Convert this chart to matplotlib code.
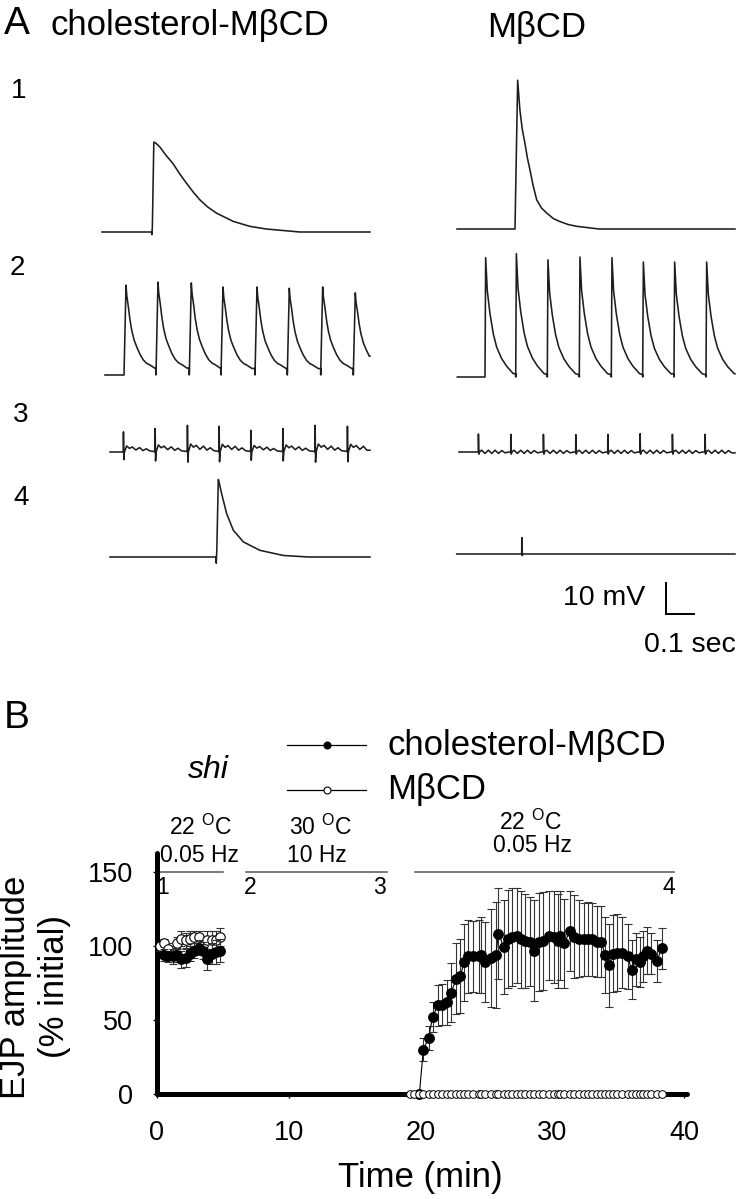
import matplotlib
matplotlib.use('Agg')
import matplotlib.pyplot as plt
import numpy as np

plt.rcParams['font.family'] = ['Liberation Sans', 'DejaVu Sans']
plt.rcParams['mathtext.fontset'] = 'custom'
plt.rcParams['mathtext.rm'] = 'Liberation Sans'
plt.rcParams['mathtext.it'] = 'Liberation Sans:italic'

W, H = 737, 1199
MS_PER_PX = 100 / 28    # 0.1 sec scale bar is 28 px
MV_PER_PX = 10 / 31     # 10 mV scale bar is 31 px

# ---------------- panel A : EJP traces (time in ms, voltage in mV) -------------
# waveform shapes (time after stimulus, fraction of peak)
slow_t = [0, 1, 3, 8.3, 15, 30, 50, 77, 100, 125, 150, 173, 200, 232, 292, 351, 411, 530]
slow_v = [0, -0.03, 0.05, 1.0, 0.99, 0.945, 0.86, 0.76, 0.65, 0.542, 0.44, 0.357, 0.28,
          0.21, 0.118, 0.063, 0.033, 0]
fast_t = [0, 9.5, 17.5, 26, 35.5, 44, 53.5, 65, 77.5, 95, 113.5, 137, 160.5, 190, 220.5, 300]
fast_v = [0, 1.0, 0.80, 0.67, 0.576, 0.48, 0.397, 0.29, 0.196, 0.14, 0.107, 0.07, 0.05,
          0.03, 0.018, 0]
late_t = [0, 1, 3, 8.3, 12, 20, 38, 62, 98, 157, 240, 330]
late_v = [0, -0.08, 0.1, 1.0, 0.95, 0.82, 0.56, 0.345, 0.194, 0.086, 0.02, 0]
train_l_t = [0, 7.1, 10, 15.5, 21, 27.4, 36, 45.2, 57, 69, 81, 92.9, 110.7]
train_l_v = [0, 1.0, 0.88, 0.76, 0.62, 0.5, 0.39, 0.315, 0.23, 0.167, 0.13, 0.111, 0.074]
train_r_t = [0, 2.4, 8.3, 17.9, 29.8, 41.7, 59.5, 77.4, 101, 112]
train_r_v = [0, 1.0, 0.72, 0.53, 0.36, 0.25, 0.154, 0.09, 0.028, 0.02]
spike_l_t = [0, 0.5, 2, 4, 12, 22, 32, 45, 58, 70, 82, 95, 108]
spike_l_v = [0, 1.0, -0.38, 0, 0.3, 0.18, 0.25, 0.1, 0.22, 0.07, 0.16, 0.05, 0.03]
spike_r_t = [0, 0.5, 2, 5, 12, 24, 36, 48, 60, 72, 84, 96, 108]
spike_r_v = [0, 1.0, -0.12, 0.02, 0.1, -0.08, 0.1, -0.08, 0.1, -0.08, 0.08, -0.05, 0]
single_t = [0, 0.5, 2, 4]
single_v = [0, 1.0, -0.1, 0]

# cholesterol-MbCD column
c1_span, c1_on, c1_amp = (25, 982), [201.8], [29.0]
c2_span = (35.7, 982)
c2_on = [103.6, 217.8, 336.8, 450.0, 571.4, 686.8, 806.0, 922.5]
c2_amp = [29.0, 30.0, 29.7, 28.4, 28.4, 28.0, 28.4, 26.5]
c3_span = (53.6, 982)
c3_on = [101.1, 214.3, 329.6, 442.8, 556.0, 670.3, 785.7, 901.0]
c3_amp = [6.5, 7.6, 8.6, 8.3, 7.0, 7.6, 8.6, 8.3]
c4_span, c4_on, c4_amp = (53.6, 982), [432.1], [25.0]

# MbCD column
m1_span, m1_on, m1_amp = (17.9, 1010.6), [225.0], [48.0]
m2_span = (19.0, 1010.6)
m2_on = [117.8, 227.5, 340.3, 454.6, 568.9, 681.0, 792.8, 907.1]
m2_amp = [38.5, 39.8, 37.8, 38.7, 38.5, 37.1, 37.1, 37.1]
m3_span = (25.0, 1010.6)
m3_on = [93.9, 209.6, 326.0, 441.7, 556.0, 671.3, 786.7, 903.4]
m3_amp = [5.8, 5.7, 5.7, 5.6, 5.7, 5.9, 5.7, 5.7]
m4_span, m4_on, m4_amp = (16.8, 1010.6), [248.9], [5.3]

# ---------------- panel B : EJP amplitude (% initial) vs time (min) ------------
chol_early_t = [0.5, 0.8, 1.2, 1.5, 1.8, 2.2, 2.5, 2.8, 3.2, 3.5, 3.8, 4.2, 4.5, 4.8]
chol_early_amp = [94, 93, 93, 94, 91, 92, 95, 97, 99, 97, 91, 95, 96, 97]
chol_early_err = [4, 4, 5, 5, 6, 6, 5, 5, 5, 6, 7, 7, 8, 8]

mbcd_early_t = [0.2, 0.5, 0.8, 1.2, 1.5, 1.8, 2.2, 2.5, 2.8, 3.2, 3.5, 3.8, 4.2, 4.5, 4.8]
mbcd_early_amp = [100, 102, 98, 95, 102, 105, 104, 105, 106, 106, 101, 104, 104, 104, 106]
mbcd_early_err = [3, 3, 4, 4, 4, 5, 5, 5, 4, 4, 5, 6, 6, 6, 6]

chol_rec_t = [19.9, 20.2, 20.6, 20.9, 21.3, 21.6, 22.0, 22.3, 22.7, 23.0, 23.3, 23.6, 24.0,
              24.4, 24.6, 24.9, 25.3, 25.7, 25.9, 26.3, 26.6, 26.9, 27.3, 27.6, 27.9, 28.3,
              28.6, 29.0, 29.3, 29.7, 30.1, 30.4, 30.6, 30.9, 31.3, 31.6, 32.0, 32.4, 32.7,
              33.0, 33.4, 33.7, 34.0, 34.3, 34.6, 34.9, 35.3, 35.7, 36.0, 36.3, 36.6, 36.9,
              37.2, 37.5, 37.9, 38.3]
chol_rec_amp = [0, 30, 38, 52, 60, 60.5, 62, 68.5, 78, 80, 89, 93, 93, 93, 94, 89, 92, 94,
                108.5, 99.5, 105, 106, 107, 104.5, 103.6, 103, 97, 103, 103.6, 107, 106,
                103.6, 107, 102, 110, 106.5, 105, 104.5, 105, 104.5, 103, 103, 94, 87, 95,
                95.5, 95.5, 93, 84, 91, 89.5, 93, 97, 95, 90, 98.5]
chol_rec_err = [0, 8, 8, 10, 14, 14, 15, 20, 24, 25, 26, 25, 24, 25, 26, 27, 33, 36, 31, 32,
                33, 33, 32, 33, 32, 30, 34, 33, 33, 30, 31, 32, 30, 30, 27, 28, 26, 25, 25,
                25, 24, 24, 26, 28, 26, 26, 24, 22, 20, 18, 17, 17, 16, 14, 14, 14]

mbcd_rec_t = [19.2, 19.5] + chol_rec_t
mbcd_rec_amp = [0.0] * len(mbcd_rec_t)

# protocol bars (start, end) in min
proto_spans = [(0, 5.0), (6.75, 17.45), (19.57, 39.2)]


def fig_box(x0, y0, x1, y1):
    return [x0 / W, 1 - y1 / H, (x1 - x0) / W, (y1 - y0) / H]


def build_trace(span, onsets, amps, shape_t, shape_v):
    t, v = [span[0]], [0.0]
    for i, (on, amp) in enumerate(zip(onsets, amps)):
        stop = onsets[i + 1] if i + 1 < len(onsets) else span[1]
        t.append(on)
        v.append(v[-1])
        for st, sv in zip(shape_t, shape_v):
            if on + st >= stop:
                break
            t.append(on + st)
            v.append(amp * sv)
    t.append(span[1])
    v.append(v[-1])
    return np.array(t), np.array(v)


fig = plt.figure(figsize=(W / 100, H / 100), dpi=100)

# ---- panel A
A_TOP, A_BOT = 50, 680
ax_l = fig.add_axes(fig_box(95, A_TOP, 380, A_BOT))
ax_r = fig.add_axes(fig_box(452, A_TOP, 737, A_BOT))
for ax in (ax_l, ax_r):
    ax.set_xlim(0, 285 * MS_PER_PX)
    ax.set_ylim(-(A_BOT - A_TOP) * MV_PER_PX, 0)
    ax.axis('off')


def base(py):
    return -(py - A_TOP) * MV_PER_PX


left_rows = [
    (c1_span, c1_on, c1_amp, slow_t, slow_v, 232),
    (c2_span, c2_on, c2_amp, train_l_t, train_l_v, 375),
    (c3_span, c3_on, c3_amp, spike_l_t, spike_l_v, 452),
    (c4_span, c4_on, c4_amp, late_t, late_v, 557),
]
right_rows = [
    (m1_span, m1_on, m1_amp, fast_t, fast_v, 229),
    (m2_span, m2_on, m2_amp, train_r_t, train_r_v, 377),
    (m3_span, m3_on, m3_amp, spike_r_t, spike_r_v, 452),
    (m4_span, m4_on, m4_amp, single_t, single_v, 554),
]
for ax, rows in ((ax_l, left_rows), (ax_r, right_rows)):
    for span, on, amp, st, sv, py in rows:
        t, v = build_trace(span, on, amp, st, sv)
        ax.plot(t, v + base(py), color='#1e1e1e', lw=1.15, clip_on=False)

# scale bar
sb_x = (666 - 452) * MS_PER_PX
sb_y = base(614)
ax_r.plot([sb_x, sb_x, sb_x + 100], [sb_y + 10, sb_y, sb_y], color='black', lw=1.4,
          clip_on=False, solid_joinstyle='miter')
fig.text(645 / W, 1 - 598 / H, '10 mV', ha='right', va='center', fontsize=20.5)
fig.text(736 / W, 1 - 645 / H, '0.1 sec', ha='right', va='center', fontsize=20.5)

fig.text(4 / W, 1 - 34 / H, 'A', ha='left', va='baseline', fontsize=28)
fig.text(50 / W, 1 - 35 / H, 'cholesterol-M\u03b2CD', ha='left', va='baseline', fontsize=25)
fig.text(487 / W, 1 - 37 / H, 'M\u03b2CD', ha='left', va='baseline', fontsize=25)
for lab, (x, y) in zip(['1', '2', '3', '4'], [(11, 91), (10, 268), (13, 415), (13, 498)]):
    fig.text(x / W, 1 - y / H, lab, ha='left', va='center', fontsize=20)

# ---- panel B
fig.text(4 / W, 1 - 718 / H, 'B', ha='left', va='center', fontsize=28)
fig.text(208 / W, 1 - 770 / H, 'shi', ha='center', va='center', fontsize=23, style='italic')
for py, face, lab in ((745, 'black', 'cholesterol-M\u03b2CD'), (790, 'white', 'M\u03b2CD')):
    fig.add_artist(plt.Line2D([287 / W, 366 / W], [1 - py / H, 1 - py / H], color='black',
                              lw=0.9, transform=fig.transFigure))
    fig.add_artist(plt.Line2D([327 / W], [1 - py / H], marker='o', ms=5, mfc=face,
                              mec='black', mew=0.8, transform=fig.transFigure))
    fig.text(387 / W, 1 - py / H, lab, ha='left', va='center', fontsize=25)

axB = fig.add_axes(fig_box(157, 853, 687, 1094))
axB.set_xlim(0, 40.2)
axB.set_ylim(0, 163)
for side in ('top', 'right'):
    axB.spines[side].set_visible(False)
for side in ('left', 'bottom'):
    axB.spines[side].set_linewidth(3.6)
    axB.spines[side].set_capstyle('round')
axB.set_xticks([0, 10, 20, 30, 40])
axB.set_yticks([0, 50, 100, 150])
axB.tick_params(direction='out', length=3, width=1, labelsize=19.5)
axB.tick_params(axis='x', pad=16)
axB.tick_params(axis='y', pad=14)

err_kw = dict(ecolor='#333333', elinewidth=0.8, capsize=3, capthick=0.8, clip_on=False)
axB.errorbar(mbcd_early_t, mbcd_early_amp, yerr=mbcd_early_err, fmt='-o', color='black',
             lw=0.8, ms=6.8, mfc='white', mec='black', mew=0.8, zorder=3, **err_kw)
axB.errorbar(chol_early_t, chol_early_amp, yerr=chol_early_err, fmt='-o', color='black',
             lw=0.8, ms=6.8, mfc='black', mec='black', zorder=4, **err_kw)
axB.errorbar(chol_rec_t, chol_rec_amp, yerr=chol_rec_err, fmt='-o', color='black',
             lw=0.8, ms=6.8, mfc='black', mec='black', zorder=4, **err_kw)
axB.plot(mbcd_rec_t, mbcd_rec_amp, 'o', ms=5.5, mfc='white', mec='black', mew=0.7,
         zorder=5, clip_on=False)

for x0, x1 in proto_spans:
    axB.plot([x0, x1], [150, 150], color='#555555', lw=1.1, clip_on=False)
for lab, x in zip(['1', '2', '3', '4'], [0.45, 7.1, 16.9, 38.8]):
    axB.text(x, 139.5, lab, ha='center', va='center', fontsize=16.5)
axB.text(3.26, 180.6, r'22 $^{\mathrm{O}}$C', ha='center', va='center', fontsize=16.5)
axB.text(3.2, 161.6, '0.05 Hz', ha='center', va='center', fontsize=16.5)
axB.text(12.4, 180.6, r'30 $^{\mathrm{O}}$C', ha='center', va='center', fontsize=16.5)
axB.text(12.1, 161.6, '10 Hz', ha='center', va='center', fontsize=16.5)
axB.text(28.3, 184.0, r'22 $^{\mathrm{O}}$C', ha='center', va='center', fontsize=16.5)
axB.text(28.5, 168.4, '0.05 Hz', ha='center', va='center', fontsize=16.5)

fig.text(35 / W, 1 - 987 / H, 'EJP amplitude\n(% initial)', ha='center', va='center',
         rotation=90, fontsize=25, linespacing=1.25, multialignment='center')
fig.text(420 / W, 1 - 1177 / H, 'Time (min)', ha='center', va='center', fontsize=25)

fig.savefig('out.png', dpi=100)
